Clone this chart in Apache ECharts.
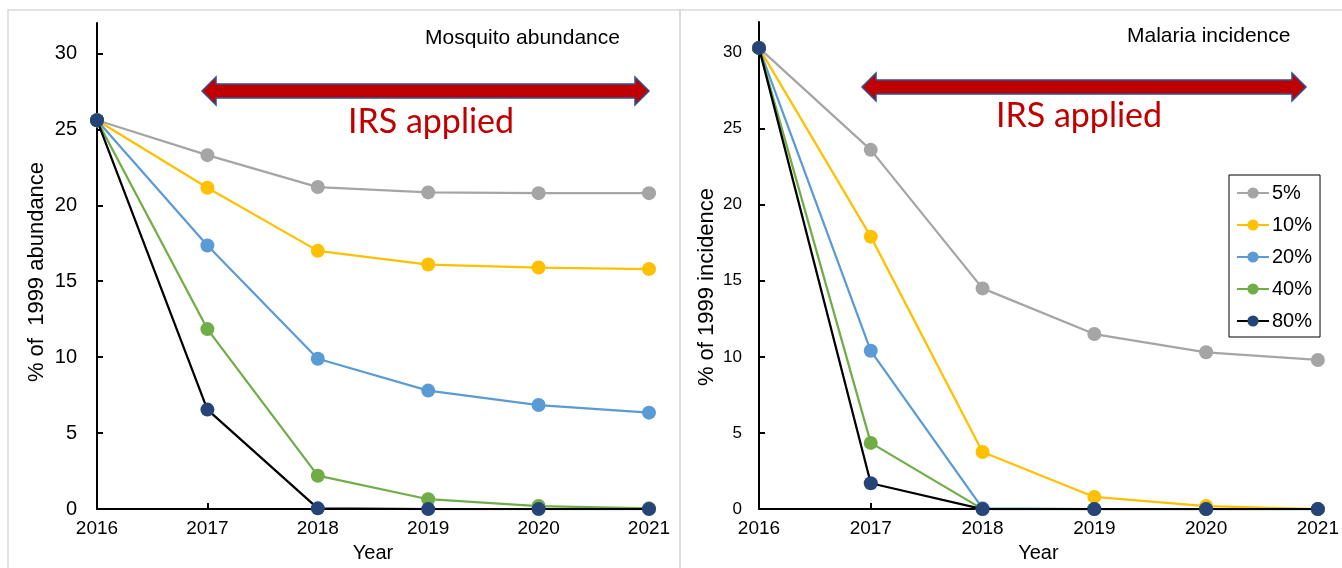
<!DOCTYPE html>
<html>
<head>
<meta charset="utf-8">
<script src="https://cdn.jsdelivr.net/npm/echarts@6/dist/echarts.min.js"></script>
<style>
html,body{margin:0;padding:0;background:#fff;}
#chart{width:1342px;height:568px;}
</style>
</head>
<body>
<div id="chart"></div>
<script>
const years = ['2016','2017','2018','2019','2020','2021'];
const seriesNames = ['5%','10%','20%','40%','80%'];
const yTicks = [0,5,10,15,20,25,30];

// Mosquito abundance (% of 1999)
const abund5  = [25.6, 23.3, 21.2, 20.85, 20.8, 20.8];
const abund10 = [25.6, 21.15, 17.0, 16.1, 15.9, 15.8];
const abund20 = [25.6, 17.35, 9.9, 7.8, 6.85, 6.35];
const abund40 = [25.6, 11.85, 2.2, 0.65, 0.2, 0.05];
const abund80 = [25.6, 6.55, 0.05, 0.0, 0.0, 0.0];

// Malaria incidence (% of 1999)
const inc5  = [30.3, 23.6, 14.5, 11.5, 10.3, 9.8];
const inc10 = [30.3, 17.9, 3.75, 0.8, 0.2, 0.0];
const inc20 = [30.3, 10.4, 0.05, 0.0, 0.0, 0.0];
const inc40 = [30.3, 4.35, 0.0, 0.0, 0.0, 0.0];
const inc80 = [30.3, 1.7, 0.0, 0.0, 0.0, 0.0];

const lineColors   = ['#A5A5A5','#FFC000','#5B9BD5','#70AD47','#000000'];
const markerColors = ['#A5A5A5','#FFC000','#5B9BD5','#70AD47','#264478'];

const FONT = 'Liberation Sans, Arial, sans-serif';
const chart = echarts.init(document.getElementById('chart'));

function mkSeries(name, data, idx, ci){
  return {
    name: name, type: 'line', data: data,
    xAxisIndex: idx, yAxisIndex: idx,
    symbol: 'circle', symbolSize: 14,
    lineStyle: {color: lineColors[ci], width: 2.25},
    itemStyle: {color: markerColors[ci]},
    emphasis: {disabled: true},
    animation: false, z: 2 + ci
  };
}
const leftData = [abund5, abund10, abund20, abund40, abund80];
const rightData = [inc5, inc10, inc20, inc40, inc80];
const series = [];
seriesNames.forEach((n,i)=>series.push(mkSeries(n, leftData[i], 0, i)));
seriesNames.forEach((n,i)=>series.push(mkSeries(n, rightData[i], 1, i)));

function xAx(idx, margin, gap){
  return {
    type: 'category', gridIndex: idx, data: years, boundaryGap: false,
    name: 'Year', nameLocation: 'middle', nameGap: gap,
    nameTextStyle: {fontFamily: FONT, fontSize: 20, color: '#000'},
    axisLine: {lineStyle: {color: '#000', width: 2}},
    axisTick: {inside: true, length: 6, lineStyle: {color: '#000', width: 2}},
    axisLabel: {fontFamily: FONT, fontSize: 19, color: '#000', margin: margin, showMinLabel: true, showMaxLabel: true, interval: 0, hideOverlap: false},
    splitLine: {show: false}
  };
}
function yAx(idx, fs, margin){
  return {
    type: 'value', gridIndex: idx, min: 0, max: 32,
    axisLine: {show: true, lineStyle: {color: '#000', width: 2}},
    axisTick: {show: true, inside: true, length: 6, customValues: yTicks, lineStyle: {color: '#000', width: 2}},
    axisLabel: {fontFamily: FONT, fontSize: fs, color: '#000', margin: margin, customValues: yTicks},
    splitLine: {show: false}
  };
}

function arrow(x1, x2, cy){
  const sh = 7, hh = 14, hl = 14;
  return {
    type: 'polygon',
    shape: {points: [
      [x1, cy], [x1+hl, cy-hh], [x1+hl, cy-sh], [x2-hl, cy-sh], [x2-hl, cy-hh],
      [x2, cy], [x2-hl, cy+hh], [x2-hl, cy+sh], [x1+hl, cy+sh], [x1+hl, cy+hh]
    ]},
    style: {fill: '#C00000', stroke: '#2F528F', lineWidth: 1.5},
    z: 20
  };
}

const option = {
  backgroundColor: '#fff',
  animation: false,
  grid: [
    {left: 97, top: 23, width: 552, height: 488},
    {left: 759, top: 22, width: 562, height: 492}
  ],
  xAxis: [xAx(0, 10, 31), xAx(1, 10, 33)],
  yAxis: [yAx(0, 20, 20), yAx(1, 17, 17)],
  legend: {
    show: true, orient: 'vertical', left: 1229, top: 175,
    data: seriesNames,
    itemWidth: 32, itemHeight: 14, itemGap: 12,
    borderColor: '#000', borderWidth: 1,
    padding: [8, 8, 6, 7],
    textStyle: {fontFamily: FONT, fontSize: 20, color: '#000', padding: [0,0,0,-2]},
    selectedMode: false
  },
  graphic: [
    {type: 'rect', shape: {x: 8, y: 10, width: 672, height: 570}, style: {fill: null, stroke: '#D9D9D9', lineWidth: 1.5}, z: 0, silent: true},
    {type: 'rect', shape: {x: 680, y: 10, width: 670, height: 570}, style: {fill: null, stroke: '#D9D9D9', lineWidth: 1.5}, z: 0, silent: true},
    {type: 'text', left: 425, top: 28, style: {text: 'Mosquito abundance', font: '21px ' + FONT, fill: '#000'}},
    {type: 'text', left: 1127, top: 26, style: {text: 'Malaria incidence', font: '21px ' + FONT, fill: '#000'}},
    arrow(202, 649, 91),
    arrow(862, 1306, 87),
    {type: 'text', x: 431, y: 122, style: {text: 'IRS applied', font: '34px Lato, sans-serif', fill: '#C00000', align: 'center', verticalAlign: 'middle'}, z: 20},
    {type: 'text', x: 1079, y: 116, style: {text: 'IRS applied', font: '34px Lato, sans-serif', fill: '#C00000', align: 'center', verticalAlign: 'middle'}, z: 20},
    {type: 'text', x: 37, y: 272, rotation: Math.PI/2, style: {text: '% of  1999 abundance', font: '22px ' + FONT, fill: '#000', align: 'center', verticalAlign: 'middle'}},
    {type: 'text', x: 707, y: 287, rotation: Math.PI/2, style: {text: '% of 1999 incidence', font: '22px ' + FONT, fill: '#000', align: 'center', verticalAlign: 'middle'}}
  ],
  series: series
};
chart.setOption(option);
</script>
</body>
</html>
